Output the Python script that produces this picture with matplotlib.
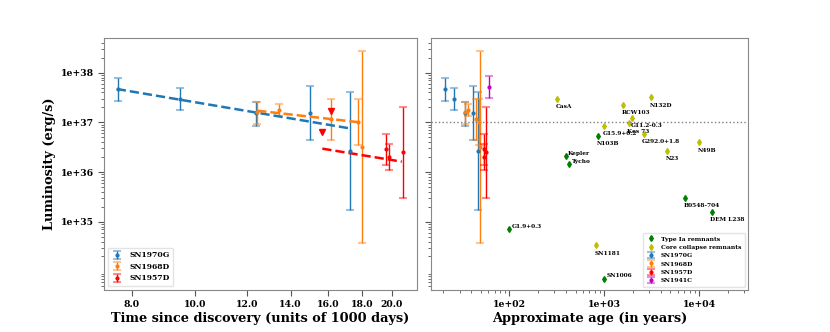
import matplotlib
matplotlib.use('Agg')
import matplotlib.pyplot as plt
from matplotlib.ticker import FormatStrFormatter, FixedLocator, NullLocator, LogLocator
import numpy as np

plt.rcParams['font.family'] = ['DejaVu Serif']
plt.rcParams['font.weight'] = 'bold'

# ---- supernova light curves (time in 1000 days, luminosity in erg/s) ----
t_70g = [7.63, 9.49, 12.40, 15.0, 17.27]
L_70g = [4.70e37, 2.96e37, 1.52e37, 1.52e37, 2.66e36]
lo_70g = [2.70e37, 1.77e37, 8.6e36, 4.43e36, 1.73e35]
hi_70g = [7.93e37, 4.85e37, 2.61e37, 5.47e37, 4.15e37]

t_68d = [12.46, 13.42, 16.15, 17.75, 18.03]
L_68d = [1.60e37, 1.75e37, 1.15e37, 1.00e37, 3.20e36]
lo_68d = [9.2e36, 1.36e37, 4.37e36, 3.51e36, 3.69e34]
hi_68d = [2.61e37, 2.31e37, 2.92e37, 2.92e37, 2.73e38]

t_57d = [19.6, 19.81, 20.84]
L_57d = [2.88e36, 2.04e36, 2.50e36]
lo_57d = [1.39e36, 1.10e36, 3.06e35]
hi_57d = [5.77e36, 3.73e36, 2.01e37]

# SN1957D upper limits
t_57d_ul = [15.67, 16.15]
L_57d_ul = [6.3e36, 1.69e37]

# power-law fits (start / end points)
fit_70g_t = [7.59, 17.22]
fit_70g_L = [4.70e37, 7.6e36]
fit_68d_t = [12.45, 17.89]
fit_68d_L = [1.72e37, 1.0e37]
fit_57d_t = [15.66, 20.72]
fit_57d_L = [2.96e36, 1.62e36]

# SN1941C (age in years)
age_41c = [61.5]
L_41c = [5.2e37]
lo_41c = [3.05e37]
hi_41c = [8.7e37]

# ---- supernova remnants (age in years) ----
ia_names = ['G1.9+0.3', 'SN1006', 'Kepler', 'Tycho', 'N103B', 'B0548-704', 'DEM L238']
ia_age = [100, 993, 395, 428, 865, 7130, 13600]
ia_L = [7.06e34, 7.2e33, 2.11e36, 1.44e36, 5.4e36, 3.05e35, 1.6e35]

cc_names = ['CasA', 'RCW103', 'N132D', 'G11.2-0.3', 'Kes 73', 'G15.9+0.2',
            'G292.0+1.8', 'N23', 'N49B', 'SN1181']
cc_age = [318, 1585, 3150, 1990, 1808, 1000, 2600, 4600, 10000, 818]
cc_L = [2.96e37, 2.27e37, 3.24e37, 1.23e37, 9.7e36, 8.6e36, 5.9e36, 2.7e36, 4.0e36, 3.4e34]

# labels placed to the right of the point instead of below
right_labels = ['G1.9+0.3', 'SN1006', 'Kepler', 'Tycho']

lum_ticks = [1e35, 1e36, 1e37, 1e38]
time_ticks = [8, 10, 12, 14, 16, 18, 20]
days_per_year = 365.25


def yerr(L, lo, hi):
    L = np.array(L)
    return [L - np.array(lo), np.array(hi) - L]


def ebar(ax, x, L, lo, hi, color, label):
    eb = ax.errorbar(x, L, yerr=yerr(L, lo, hi), fmt='.', color=color, ms=4,
                     elinewidth=1, capsize=3, capthick=1.5, label=label)
    for c in eb[1]:
        c.set_alpha(0.45)
    return eb


fig = plt.figure(figsize=(8.3, 3.32), dpi=100)
ax1 = fig.add_axes([0.1253, 0.1265, 0.3771, 0.7590])
ax2 = fig.add_axes([0.5193, 0.1265, 0.3819, 0.7590], sharey=ax1)

# ---- left panel ----
ebar(ax1, t_70g, L_70g, lo_70g, hi_70g, 'C0', 'SN1970G')
ebar(ax1, t_68d, L_68d, lo_68d, hi_68d, 'C1', 'SN1968D')
ebar(ax1, t_57d, L_57d, lo_57d, hi_57d, 'r', 'SN1957D')
ax1.plot(t_57d_ul, L_57d_ul, 'v', color='r', ms=4.5)
ax1.plot(fit_70g_t, fit_70g_L, '--', color='C0', lw=1.8)
ax1.plot(fit_68d_t, fit_68d_L, '--', color='C1', lw=1.8)
ax1.plot(fit_57d_t, fit_57d_L, '--', color='r', lw=1.8)

ax1.set_xscale('log')
ax1.set_yscale('log')
ax1.set_xlim(7.257, 21.86)
ax1.set_ylim(10**33.626, 10**38.698)
ax1.xaxis.set_major_locator(FixedLocator(time_ticks))
ax1.xaxis.set_minor_locator(NullLocator())
ax1.xaxis.set_major_formatter(FormatStrFormatter('%.1f'))
ax1.yaxis.set_major_locator(FixedLocator(lum_ticks))
ax1.yaxis.set_major_formatter(FormatStrFormatter('%.0e'))
ax1.set_xlabel('Time since discovery (units of 1000 days)', fontsize=9.3, fontweight='bold', labelpad=2)
ax1.set_ylabel('Luminosity (erg/s)', fontsize=9.3, fontweight='bold', labelpad=3)
ax1.legend(loc='lower left', fontsize=5.5, handlelength=1.5, borderpad=0.5,
           labelspacing=0.45, frameon=True, edgecolor='#dddddd', fancybox=True)

# ---- right panel ----
ax2.plot(ia_age, ia_L, 'd', color='g', ms=3, label='Type Ia remnants')
ax2.plot(cc_age, cc_L, 'd', color='y', ms=3, label='Core collapse remnants')
ebar(ax2, np.array(t_70g) * 1000 / days_per_year, L_70g, lo_70g, hi_70g, 'C0', 'SN1970G')
ebar(ax2, np.array(t_68d) * 1000 / days_per_year, L_68d, lo_68d, hi_68d, 'C1', 'SN1968D')
ebar(ax2, np.array(t_57d) * 1000 / days_per_year, L_57d, lo_57d, hi_57d, 'r', 'SN1957D')
ebar(ax2, age_41c, L_41c, lo_41c, hi_41c, 'm', 'SN1941C')
ax2.axhline(1e37, color='gray', ls=':', lw=1)

for name, a, L in zip(ia_names + cc_names, ia_age + cc_age, ia_L + cc_L):
    if name in right_labels:
        off = (2.3 * 0.72, 2.7 * 0.72)
    else:
        off = (-1.3 * 0.72, -8.0 * 0.72)
    ax2.annotate(name, (a, L), xytext=off, textcoords='offset points',
                 ha='left', va='center', fontsize=4.2, fontweight='bold')

ax2.set_xscale('log')
ax2.set_xlim(15.0, 32800)
ax2.xaxis.set_major_locator(LogLocator(base=10, numticks=10))
ax2.xaxis.set_major_formatter(FormatStrFormatter('%.0e'))
ax2.tick_params(axis='y', which='both', labelleft=False)
ax2.set_xlabel('Approximate age (in years)', fontsize=9.3, fontweight='bold', labelpad=2)
ax2.legend(loc='lower right', fontsize=4.4, handlelength=1.5, borderpad=0.6,
           labelspacing=0.5, frameon=True, edgecolor='#dddddd', fancybox=True)

for ax in (ax1, ax2):
    for s in ax.spines.values():
        s.set_color('#888888')
    ax.tick_params(which='both', colors='#555555', labelcolor='black', labelsize=6.7)
    ax.tick_params(which='major', length=4)
    ax.tick_params(which='minor', length=2.5)
    for lab in ax.get_xticklabels() + ax.get_yticklabels():
        lab.set_fontweight('bold')

fig.savefig('out.png', dpi=100)
